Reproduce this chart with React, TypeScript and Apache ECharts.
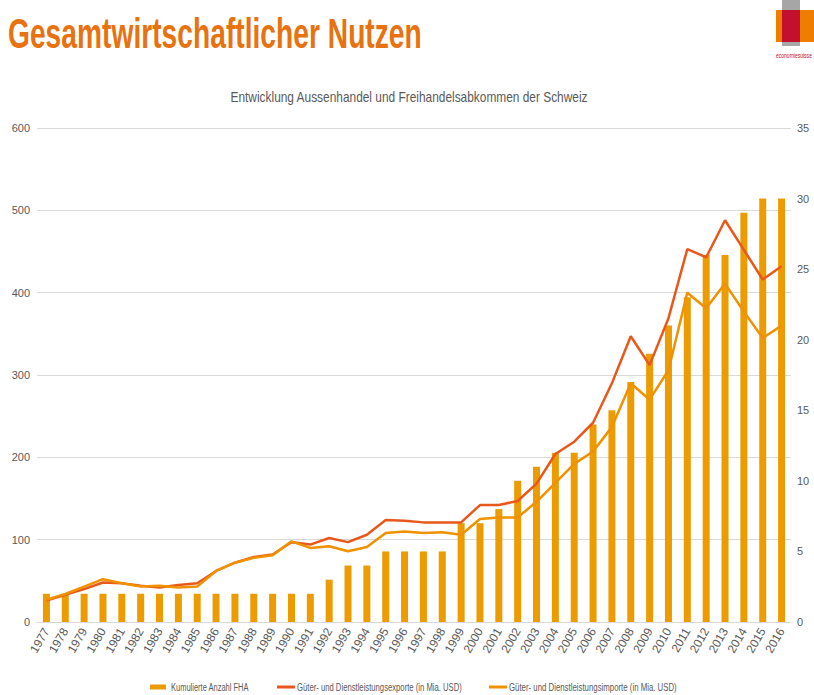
import React, { useEffect, useRef } from "react";
import * as echarts from "echarts";

const years = [
  "1977","1978","1979","1980","1981","1982","1983","1984","1985","1986",
  "1987","1988","1989","1990","1991","1992","1993","1994","1995","1996",
  "1997","1998","1999","2000","2001","2002","2003","2004","2005","2006",
  "2007","2008","2009","2010","2011","2012","2013","2014","2015","2016",
];

const fhaCount = [
  2, 2, 2, 2, 2, 2, 2, 2, 2, 2,
  2, 2, 2, 2, 2, 3, 4, 4, 5, 5,
  5, 5, 7, 7, 8, 10, 11, 12, 12, 14,
  15, 17, 19, 21, 23, 26, 26, 29, 30, 30,
];

const exportsUsd = [
  26, 33, 40, 48, 47, 44, 42, 45, 47, 62,
  72, 79, 82, 97, 94, 102, 97, 106, 124, 123,
  121, 121, 121, 142, 142, 147, 168, 204, 219, 242,
  290, 347, 312, 369, 453, 443, 488, 452, 416, 432,
];

const importsUsd = [
  27, 34, 43, 52, 47, 43, 44, 42, 43, 62,
  72, 78, 81, 98, 90, 92, 86, 91, 108, 110,
  108, 109, 106, 125, 127, 127, 146, 169, 192, 207,
  237, 290, 270, 306, 400, 381, 411, 377, 345, 360,
];

const leftTicks = { min: 0, max: 600, interval: 100 };
const rightTicks = { min: 0, max: 35, interval: 5 };

const mainTitle = "Gesamtwirtschaftlicher Nutzen";
const subTitle = "Entwicklung Aussenhandel und Freihandelsabkommen der Schweiz";
const logoText = "economiesuisse";
const seriesNames = [
  "Kumulierte Anzahl FHA",
  "Güter- und Dienstleistungsexporte (in Mia. USD)",
  "Güter- und Dienstleistungsimporte (in Mia. USD)",
];

const BAR_COLOR = "#EC9B00";
const EXP_COLOR = "#E8581A";
const IMP_COLOR = "#EF9100";
const TEXT_COLOR = "#595959";

function fitScale(text: string, font: string, target: number) {
  const ctx = document.createElement("canvas").getContext("2d");
  if (!ctx) return 1;
  ctx.font = font;
  const w = ctx.measureText(text).width;
  return w > 0 ? target / w : 1;
}

export default function App() {
  const ref = useRef<HTMLDivElement>(null);
  useEffect(() => {
    if (!ref.current) return;
    const chart = echarts.init(ref.current, null, { renderer: "svg" });
    const titleFont = "bold 43px 'Liberation Sans'";
    const subFont = "14px 'Liberation Sans'";
    const legFont = "11px 'Liberation Sans'";
    const logoFont = "7px 'Liberation Sans'";

    const legendItems = [
      { kind: "rect", x0: 150, x1: 166, tx: 171, tw: 78, color: BAR_COLOR, name: seriesNames[0] },
      { kind: "line", x0: 277, x1: 295, tx: 297, tw: 165, color: EXP_COLOR, name: seriesNames[1] },
      { kind: "line", x0: 489, x1: 507, tx: 509, tw: 168, color: IMP_COLOR, name: seriesNames[2] },
    ];
    const legendY = 687;
    const legendGraphics: any[] = [];
    legendItems.forEach((it) => {
      if (it.kind === "rect") {
        legendGraphics.push({
          type: "rect",
          shape: { x: it.x0, y: legendY - 2.5, width: it.x1 - it.x0, height: 5 },
          style: { fill: it.color },
        });
      } else {
        legendGraphics.push({
          type: "line",
          shape: { x1: it.x0, y1: legendY, x2: it.x1, y2: legendY },
          style: { stroke: it.color, lineWidth: 3 },
        });
      }
      legendGraphics.push({
        type: "text",
        x: it.tx,
        y: legendY,
        scaleX: fitScale(it.name, legFont, it.tw),
        style: {
          text: it.name,
          font: legFont,
          fill: TEXT_COLOR,
          verticalAlign: "middle",
          align: "left",
        },
      });
    });

    chart.setOption({
      animation: false,
      backgroundColor: "#ffffff",
      textStyle: { color: TEXT_COLOR, fontFamily: "'Liberation Sans', sans-serif" },
      graphic: [
        {
          type: "text",
          x: 8,
          y: 33,
          scaleX: fitScale(mainTitle, titleFont, 414),
          style: {
            text: mainTitle,
            font: titleFont,
            fill: "#E8720F",
            verticalAlign: "middle",
            align: "left",
          },
        },
        {
          type: "text",
          x: 409,
          y: 97,
          scaleX: fitScale(subTitle, subFont, 358),
          style: {
            text: subTitle,
            font: subFont,
            fill: TEXT_COLOR,
            verticalAlign: "middle",
            align: "center",
          },
        },
        { type: "rect", shape: { x: 782, y: 0, width: 18, height: 46 }, style: { fill: "#A6A6A6" } },
        { type: "rect", shape: { x: 776, y: 10, width: 38, height: 32 }, style: { fill: "#EF7D00" } },
        { type: "rect", shape: { x: 782, y: 10, width: 18, height: 32 }, style: { fill: "#C3102E" } },
        {
          type: "text",
          x: 776,
          y: 55,
          scaleX: fitScale(logoText, logoFont, 36),
          style: {
            text: logoText,
            font: logoFont,
            fill: "#C3102E",
            verticalAlign: "middle",
            align: "left",
          },
        },
        ...legendGraphics,
      ],
      grid: { left: 37, right: 23, top: 128, bottom: 73, containLabel: false },
      xAxis: {
        type: "category",
        data: years,
        axisLine: { lineStyle: { color: "#D9D9D9", width: 1 } },
        axisTick: { show: false },
        axisLabel: {
          rotate: 60,
          color: TEXT_COLOR,
          fontSize: 12,
          margin: 7,
          interval: 0,
        },
      },
      yAxis: [
        {
          type: "value",
          ...leftTicks,
          axisLine: { show: false, lineStyle: { color: TEXT_COLOR } },
          axisTick: { show: false },
          splitLine: { lineStyle: { color: "#D9D9D9", width: 1 } },
          axisLabel: { color: TEXT_COLOR, fontSize: 11, margin: 7 },
        },
        {
          type: "value",
          position: "right",
          ...rightTicks,
          axisLine: { show: false, lineStyle: { color: TEXT_COLOR } },
          axisTick: { show: false },
          splitLine: { show: false },
          axisLabel: { color: TEXT_COLOR, fontSize: 11, margin: 6 },
        },
      ],
      series: [
        {
          name: seriesNames[0],
          type: "bar",
          yAxisIndex: 1,
          data: fhaCount,
          barWidth: 7,
          itemStyle: { color: BAR_COLOR },
        },
        {
          name: seriesNames[1],
          type: "line",
          yAxisIndex: 0,
          data: exportsUsd,
          symbol: "none",
          lineStyle: { color: EXP_COLOR, width: 2.5 },
          itemStyle: { color: EXP_COLOR },
        },
        {
          name: seriesNames[2],
          type: "line",
          yAxisIndex: 0,
          data: importsUsd,
          symbol: "none",
          lineStyle: { color: IMP_COLOR, width: 2.5 },
          itemStyle: { color: IMP_COLOR },
        },
      ],
    });
    return () => chart.dispose();
  }, []);
  return (
    <div
      ref={ref}
      style={{ position: "fixed", left: 0, top: 0, width: 814, height: 695 }}
    />
  );
}
